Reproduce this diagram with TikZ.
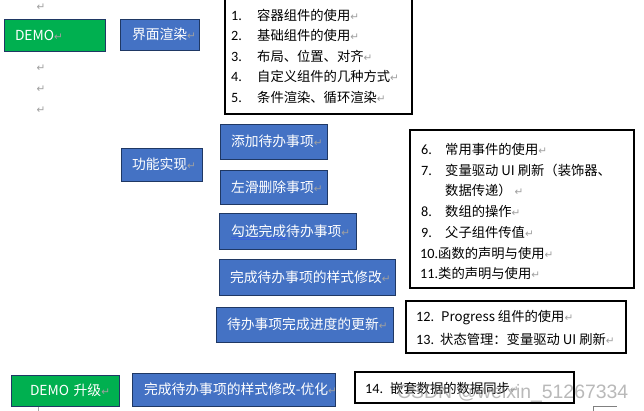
\documentclass[tikz,border=0pt]{standalone}
\usepackage{fontspec}
\setmainfont{Noto Sans CJK SC}
\newfontfamily\symfont{DejaVu Sans}
\newfontfamily\wmfont{Liberation Sans}
\newfontfamily\numfont{Carlito}
\definecolor{boxblue}{HTML}{4472C4}
\definecolor{boxgreen}{HTML}{00B050}
\definecolor{boxedge}{HTML}{1F3864}
\definecolor{markgray}{HTML}{A0A0A0}
\definecolor{ulblue}{HTML}{3A62D8}
\newcommand{\pmark}{{\symfont\fontsize{10.5}{10.5}\selectfont\textcolor{markgray}{↵}}}
\newcommand{\lnum}[2]{\makebox[#1][l]{\numfont\fontsize{14.2}{16}\selectfont #2}}
\tikzset{
  cbox/.style={draw=boxedge, line width=0.9pt, text=white, font=\fontsize{13.8}{16}\selectfont,
    inner ysep=0pt, anchor=north west, align=left, outer sep=0pt},
  bluebox/.style={cbox, fill=boxblue},
  greenbox/.style={cbox, fill=boxgreen},
  listframe/.style={draw=black, line width=1.2pt, anchor=north west, inner sep=0pt, outer sep=0pt},
  litem/.style={anchor=west, inner sep=0pt, font=\fontsize{13.3}{16}\selectfont},
  freemark/.style={inner sep=0pt},
  watermark/.style={anchor=base west, inner sep=0pt, text=gray, opacity=0.55,
    font=\wmfont\fontsize{19.4}{22}\selectfont}
}
\begin{document}
\begin{tikzpicture}[x=1pt,y=-1pt]
\fill[white] (0,0) rectangle (644,411);
\useasboundingbox (0,0) rectangle (644,411);

% free paragraph marks
\node[freemark] (m0) at (41,7) {\pmark};
\node[freemark] (m1) at (41,68) {\pmark};
\node[freemark] (m2) at (41,89) {\pmark};
\node[freemark] (m3) at (41,110) {\pmark};

% coloured boxes
\node[greenbox, minimum height=32pt, inner xsep=11pt, text width=79pt] (demo) at (4,19) {\mbox{DEMO\pmark}};
\node[bluebox, minimum height=31pt, inner xsep=12pt, text width=55pt] (jm) at (120,19) {\mbox{界面渲染\pmark}};
\node[bluebox, minimum height=33pt, inner xsep=11pt, text width=59pt] (gn) at (121,148) {\mbox{功能实现\pmark}};
\node[bluebox, minimum height=35pt, inner xsep=11pt, text width=85pt] (t1) at (220,124) {\mbox{添加待办事项\pmark}};
\node[bluebox, minimum height=34pt, inner xsep=11pt, text width=85pt] (t2) at (220,170) {\mbox{左滑删除事项\pmark}};
\node[bluebox, minimum height=36pt, inner xsep=12pt, text width=113pt] (t3) at (219,213) {\mbox{勾选完成待办事项\pmark}};
\node[bluebox, minimum height=36pt, inner xsep=11pt, text width=154pt] (t4) at (219,259) {\mbox{完成待办事项的样式修改\pmark}};
\node[bluebox, minimum height=35pt, inner xsep=11pt, text width=155pt] (t5) at (216,307) {\mbox{待办事项完成进度的更新\pmark}};
\node[greenbox, minimum height=31pt, inner xsep=19pt, text width=70pt] (demo2) at (11,375) {\mbox{DEMO 升级\pmark}};
\node[bluebox, minimum height=33pt, inner xsep=12pt, text width=179pt] (t6) at (132,373) {\mbox{完成待办事项的样式修改-优化\pmark}};

% spell-check underline
\draw[ulblue, line width=0.6pt] (231,237.3) -- (287,237.3);
\draw[ulblue, line width=0.6pt] (231,239.3) -- (287,239.3);

% list frames
\node[listframe, minimum width=187pt, minimum height=116pt] (l1) at (225,-2) {};
\node[listframe, minimum width=224pt, minimum height=158pt] (l2) at (410,130) {};
\node[listframe, minimum width=220pt, minimum height=52pt] (l3) at (406,301) {};
\node[listframe, minimum width=219pt, minimum height=31pt] (l4) at (355,372) {};

% list 1
\node[litem] (i1) at (231,15) {\lnum{26pt}{1.}容器组件的使用\pmark};
\node[litem] (i2) at (231,35.5) {\lnum{26pt}{2.}基础组件的使用\pmark};
\node[litem] (i3) at (231,56) {\lnum{26pt}{3.}布局、位置、对齐\pmark};
\node[litem] (i4) at (231,76.5) {\lnum{26pt}{4.}自定义组件的几种方式\pmark};
\node[litem] (i5) at (231,97) {\lnum{26pt}{5.}条件渲染、循环渲染\pmark};

% list 2
\node[litem] (i6) at (421,149) {\lnum{24pt}{6.}常用事件的使用\pmark};
\node[litem] (i7) at (421,170) {\lnum{24pt}{7.}变量驱动 UI 刷新（装饰器、};
\node[litem] (i7b) at (445,190) {数据传递） \pmark};
\node[litem] (i8) at (421,211) {\lnum{24pt}{8.}数组的操作\pmark};
\node[litem] (i9) at (421,232) {\lnum{24pt}{9.}父子组件传值\pmark};
\node[litem] (i10) at (420,253) {\lnum{18pt}{10.}函数的声明与使用\pmark};
\node[litem] (i11) at (420,273) {\lnum{18pt}{11.}类的声明与使用\pmark};

% list 3
\node[litem] (i12) at (416,318) {\lnum{25pt}{12.}Progress 组件的使用\pmark};
\node[litem] (i13) at (416,339) {\lnum{24pt}{13.}状态管理：变量驱动 UI 刷新\pmark};

% list 4
\node[litem] (i14) at (365,388) {\lnum{25pt}{14.}嵌套数据的数据同步\pmark};

% small fragments at the bottom edge
\draw[gray, line width=0.8pt] (593,412) -- (593,406) -- (617,406);
\draw[gray!70, line width=0.8pt] (38,406.5) -- (38,412);

% watermark
\node[watermark] (wm) at (397,398) {CSDN @weixin\_51267334};
\end{tikzpicture}
\end{document}
